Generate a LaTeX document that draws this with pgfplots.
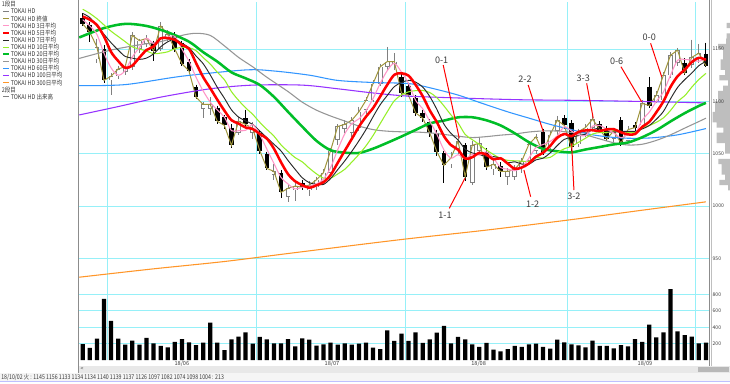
\documentclass[border=0pt]{standalone}
\usepackage{fontspec}
\setmainfont{Noto Sans CJK JP}
\usepackage{graphicx}
\usepackage{pgfplots}
\usepackage{pgfplotstable}
\pgfplotsset{compat=1.18}

\definecolor{gridcyan}{RGB}{150,240,248}
\definecolor{labgray}{RGB}{60,60,60}
\definecolor{candgray}{RGB}{128,128,128}
\definecolor{closeol}{RGB}{160,150,60}
\definecolor{ma3}{RGB}{255,150,200}
\definecolor{ma5}{RGB}{255,0,0}
\definecolor{ma7}{RGB}{40,40,40}
\definecolor{ma10}{RGB}{150,240,40}
\definecolor{ma20}{RGB}{0,190,40}
\definecolor{ma30}{RGB}{150,150,150}
\definecolor{ma60}{RGB}{50,150,255}
\definecolor{ma100}{RGB}{150,50,255}
\definecolor{ma300}{RGB}{255,150,40}
\definecolor{histgray}{RGB}{190,190,190}

\newcommand\legfont{\fontsize{4.9}{5}\selectfont}
\newcommand\axfont{\fontsize{3.8}{4}\selectfont}
\newcommand\monfont{\fontsize{4.2}{4.5}\selectfont}
\newcommand\annfont{\fontsize{6.8}{7}\selectfont}

\pgfplotstableread{
i o h l c
0 1180 1184 1172 1174
1 1173 1176 1157 1166
2 1140 1160 1137 1152
3 1150 1154 1118 1120
4 1120 1127 1106 1124
5 1124 1134 1121 1131
6 1128 1136 1125 1133
7 1133 1166 1130 1163
8 1150 1160 1146 1158
9 1155 1163 1152 1160
10 1156 1158 1139 1148
11 1150 1176 1148 1172
12 1160 1168 1158 1164
13 1163 1166 1147 1150
14 1156 1158 1134 1136
15 1138 1140 1126 1129
16 1114 1116 1102 1104
17 1093 1099 1084 1097
18 1093 1104 1087 1097
19 1094 1096 1078 1081
20 1085 1087 1074 1077
21 1075 1078 1055 1058
22 1070 1085 1068 1081
23 1084 1092 1075 1078
24 1070 1080 1064 1074
25 1070 1073 1050 1053
26 1050 1052 1034 1036
27 1030 1040 1025 1033
28 1032 1034 1008 1013
29 1009 1020 1004 1017
30 1015 1022 1005 1019
31 1022 1025 1015 1018
32 1015 1024 1010 1020
33 1018 1028 1015 1025
34 1023 1035 1020 1032
35 1032 1055 1030 1053
36 1063 1078 1058 1076
37 1074 1082 1070 1078
38 1070 1085 1066 1082
39 1075 1095 1072 1090
40 1092 1104 1088 1101
41 1101 1120 1099 1117
42 1117 1136 1115 1133
43 1133 1152 1130 1138
44 1136 1146 1130 1138
45 1123 1126 1104 1108
46 1115 1118 1104 1106
47 1103 1106 1086 1089
48 1089 1092 1080 1084
49 1080 1083 1066 1070
50 1070 1073 1048 1052
51 1051 1053 1022 1039
52 1040 1052 1036 1046
53 1055 1066 1050 1062
54 1058 1060 1024 1028
55 1022 1062 1020 1058
56 1053 1066 1050 1060
57 1052 1055 1034 1037
58 1035 1044 1030 1040
59 1038 1042 1028 1033
60 1028 1036 1020 1033
61 1028 1039 1025 1035
62 1036 1046 1032 1043
63 1043 1062 1040 1059
64 1053 1069 1050 1066
65 1071 1074 1049 1051
66 1055 1072 1052 1068
67 1072 1086 1068 1082
68 1084 1087 1074 1077
69 1079 1082 1051 1056
70 1059 1074 1056 1071
71 1070 1078 1066 1075
72 1075 1088 1072 1083
73 1078 1081 1070 1073
74 1073 1076 1062 1064
75 1064 1075 1060 1072
76 1082 1085 1057 1060
77 1062 1076 1060 1073
78 1077 1080 1072 1075
79 1077 1101 1075 1098
80 1114 1123 1094 1096
81 1100 1110 1098 1106
82 1101 1128 1099 1125
83 1125 1147 1122 1144
84 1137 1151 1134 1149
85 1137 1141 1125 1127
86 1135 1159 1132 1142
87 1140 1155 1137 1146
88 1145 1156 1133 1134
}\candles

\pgfplotstableread{
i v
0 195
1 147
2 260
3 745
4 476
5 260
6 187
7 236
8 187
9 269
10 204
11 171
12 155
13 220
14 256
15 216
16 183
17 212
18 456
19 212
20 122
21 252
22 285
23 338
24 199
25 281
26 252
27 204
28 204
29 256
30 167
31 265
32 248
33 175
34 191
35 212
36 187
37 204
38 187
39 199
40 212
41 151
42 134
43 362
44 232
45 322
46 232
47 338
48 208
49 252
50 334
51 415
52 204
53 281
54 252
55 191
56 159
57 208
58 126
59 106
60 134
61 171
62 159
63 191
64 199
65 159
66 138
67 248
68 216
69 191
70 179
71 155
72 236
73 171
74 171
75 142
76 183
77 167
78 256
79 220
80 431
81 277
82 338
83 863
84 350
85 305
86 285
87 204
88 213
}\volume

\pgfplotstableread{
i v
0 1178
1 1172
2 1164
3 1146
4 1132
5 1125
6 1129.3
7 1142.3
8 1151.3
9 1160.3
10 1155.3
11 1160
12 1161.3
13 1162
14 1150
15 1138.3
16 1123
17 1110
18 1099.3
19 1091.7
20 1085
21 1072
22 1072
23 1072.3
24 1077.7
25 1068.3
26 1054.3
27 1040.7
28 1027.3
29 1021
30 1016.3
31 1018
32 1019
33 1021
34 1025.7
35 1036.7
36 1053.7
37 1069
38 1078.7
39 1083.3
40 1091
41 1102.7
42 1117
43 1129.3
44 1136.3
45 1128
46 1117.3
47 1101
48 1093
49 1081
50 1068.7
51 1053.7
52 1045.7
53 1049
54 1045.3
55 1049.3
56 1048.7
57 1051.7
58 1045.7
59 1036.7
60 1035.3
61 1033.7
62 1037
63 1045.7
64 1056
65 1058.7
66 1061.7
67 1067
68 1075.7
69 1071.7
70 1068
71 1067.3
72 1076.3
73 1077
74 1073.3
75 1069.7
76 1065.3
77 1068.3
78 1069.3
79 1082
80 1089.7
81 1100
82 1109
83 1125
84 1139.3
85 1140
86 1139.3
87 1138.3
88 1140.7
}\maA

\pgfplotstableread{
i v
0 1181
1 1178
2 1173
3 1162
4 1147.2
5 1138.6
6 1132
7 1134.2
8 1141.8
9 1149
10 1152.4
11 1160.2
12 1160.4
13 1158.8
14 1154
15 1150.2
16 1136.6
17 1123.2
18 1112.6
19 1101.6
20 1091.2
21 1082
22 1078.8
23 1075
24 1073.6
25 1068.8
26 1064.4
27 1054.8
28 1041.8
29 1030.4
30 1023.6
31 1020
32 1017.4
33 1019.8
34 1022.8
35 1029.6
36 1041.2
37 1052.8
38 1064.2
39 1075.8
40 1085.4
41 1093.6
42 1104.6
43 1115.8
44 1125.4
45 1126.8
46 1124.6
47 1115.8
48 1105
49 1091.4
50 1080.2
51 1066.8
52 1058.2
53 1053.8
54 1045.4
55 1046.6
56 1050.8
57 1049
58 1044.6
59 1045.6
60 1040.6
61 1035.6
62 1036.8
63 1040.6
64 1047.2
65 1050.8
66 1057.4
67 1065.2
68 1068.8
69 1066.8
70 1070.8
71 1072.2
72 1072.4
73 1071.6
74 1073.2
75 1073.4
76 1070.4
77 1068.4
78 1068.8
79 1075.6
80 1080.4
81 1089.6
82 1100
83 1113.8
84 1124
85 1130.2
86 1137.4
87 1141.6
88 1139.6
}\maB

\pgfplotstableread{
i v
0 1184
1 1180
2 1172
3 1164
4 1156
5 1149
6 1142.9
7 1141.3
8 1140.1
9 1141.3
10 1145.3
11 1152.1
12 1156.9
13 1159.3
14 1155.4
15 1151.3
16 1143.3
17 1136
18 1125.3
19 1113.4
20 1103
21 1091.9
22 1085
23 1081.3
24 1078
25 1071.7
26 1065.3
27 1059
28 1052.6
29 1043.4
30 1035
31 1027
32 1022.3
33 1020.7
34 1020.6
35 1026.3
36 1034.7
37 1043.1
38 1052.3
39 1062.3
40 1073.1
41 1085.3
42 1096.7
43 1105.6
44 1114.1
45 1117.9
46 1120.1
47 1118.4
48 1113.7
49 1104.7
50 1092.4
51 1078.3
52 1069.4
53 1063.1
54 1054.4
55 1050.7
56 1049.3
57 1047.1
58 1047.3
59 1045.4
60 1041.3
61 1042.3
62 1040.1
63 1040
64 1044.1
65 1045.7
66 1050.7
67 1057.7
68 1063.7
69 1065.6
70 1067.3
71 1068.6
72 1073.1
73 1073.9
74 1071.3
75 1070.6
76 1071.1
77 1071.4
78 1071.4
79 1073.6
80 1076.9
81 1082.9
82 1090.4
83 1102.4
84 1113.3
85 1120.7
86 1127
87 1134.1
88 1138.1
}\maC

\pgfplotstableread{
i v
0 1188
1 1184
2 1179
3 1173
4 1167
5 1162
6 1157
7 1152
8 1150
9 1148.1
10 1145.5
11 1146.1
12 1147.3
13 1150.3
14 1151.5
15 1151.3
16 1148.4
17 1141.8
18 1135.7
19 1127.8
20 1120.7
21 1109.3
22 1101
23 1093.8
24 1087.6
25 1080
26 1073.2
27 1066.8
28 1058.4
29 1052
30 1046.2
31 1042.2
32 1036.1
33 1030.8
34 1026.6
35 1026.6
36 1030.6
37 1035.1
38 1042
39 1049.3
40 1057.5
41 1067.4
42 1078.7
43 1090
44 1100.6
45 1106.1
46 1109.1
47 1110.2
48 1110.4
49 1108.4
50 1103.5
51 1095.7
52 1087
53 1079.4
54 1068.4
55 1063.4
56 1058.8
57 1053.6
58 1049.2
59 1045.5
60 1043.6
61 1043.2
62 1042.9
63 1042.6
64 1046.4
65 1045.7
66 1046.5
67 1051
68 1054.7
69 1057
70 1060.8
71 1064.8
72 1068.8
73 1070.2
74 1070
75 1072.1
76 1071.3
77 1070.4
78 1070.2
79 1074.4
80 1076.9
81 1080
82 1084.2
83 1091.3
84 1099.8
85 1105.3
86 1113.5
87 1120.8
88 1126.7
}\maD

\pgfplotstableread{
i v
-0.5 1161
3 1170
6 1174
9 1172
12 1166
15 1157
17 1147
19 1138
21 1127.7
23 1122
25 1115.7
27 1104.3
29 1089.9
31 1075.8
33 1062.3
35 1053.3
37 1051
39 1050.7
41 1054.8
43 1060.4
45 1066.4
47 1072.7
49 1078.9
51 1081.6
53 1084.7
55 1084.8
57 1081.9
59 1077
61 1069.5
63 1061
65 1054.6
67 1052.3
69 1051.3
71 1054
73 1056.4
75 1058.9
77 1060.7
79 1065.7
81 1072.4
83 1080.8
85 1088.7
87 1095.6
88 1098.5
}\maE

\pgfplotstableread{
i v
-0.5 1141
4 1149
8 1154
11 1157
14 1163
16 1165
18 1163
20 1153
22 1142
24 1133
26 1123
29 1109.3
31 1099.2
33 1091.6
35 1086
37 1081.2
39 1076.4
41 1073
43 1071.5
45 1070.9
47 1070.7
49 1069.9
51 1068.4
53 1066.7
55 1065.4
57 1066.3
59 1067.7
61 1068.8
63 1070.7
65 1071.7
67 1071.6
69 1070.3
71 1067.9
73 1064.1
75 1060.4
77 1058.3
79 1059
81 1062.7
83 1068
85 1074.4
87 1080.7
88 1083.9
}\maF

\pgfplotstableread{
i v
-0.5 1115
6 1116
14 1124
23 1130
27 1129
32 1125
36 1120
41 1118
46 1117
49 1113
53 1106
56 1099
60 1090
63 1084
66 1078
69 1073
72 1068
76 1065
80 1065
84 1068
88 1074
}\maG

\pgfplotstableread{
i v
-0.5 1087
5 1095
11 1104
18 1112
24 1115.5
31 1115.5
36 1112
41 1108
46 1105
54 1103
62 1101.5
69 1101
78 1100
88 1098.5
}\maH

\pgfplotstableread{
i v
-0.5 932
10 940
20 947
30 955.5
45 968
57 977
69 987
79 996
88 1004
}\maI

\pgfplotstableread{
w p
3.3 1172.5
3.3 1162.5
4 1157.5
12 1152.5
7 1147.5
7 1142.5
9.3 1137.5
9.3 1132.5
5 1127.5
10.7 1122.5
2 1117.5
7 1112.5
12 1107.5
12 1102.5
15 1097.5
15 1092.5
17.3 1087.5
17.3 1082.5
13.3 1077.5
6.7 1072.5
13.3 1067.5
13.3 1062.5
5 1057.5
5 1052.5
11.7 1042.5
8.3 1037.5
8.3 1032.5
5 1027.5
10.7 1022.5
2 1017.5
}\histo

\begin{document}
\begin{tikzpicture}
\path[use as bounding box] (0,0) rectangle (547.5pt,-287.25pt);
\begin{scope}[x=0.75pt,y=-0.75pt]
  \fill[white] (0,0) rectangle (730,383);
  \fill[black!9] (79,366) rectangle (730,372.5);
  \fill[black!28] (698,366.6) rectangle (728.5,372);
  \fill[black!4] (0,372.5) rectangle (730,381);
  \draw[blue!25, line width=0.75pt] (0,381.2) -- (730,381.2);
\end{scope}

% volume-at-price histogram on the right
\begin{axis}[at={(533.25pt,-270pt)}, anchor=south west, scale only axis,
  width=14.25pt, height=268.5pt, hide axis,
  xmin=0, xmax=19, x dir=reverse, ymin=852.9, ymax=1194.9]
  \addplot[xbar, bar width=5, bar shift=0pt, fill=histgray, draw=none] table[x=w, y=p] {\histo};
\end{axis}

% volume panel
\begin{axis}[at={(59.4pt,-270pt)}, anchor=south west, scale only axis,
  width=472.7pt, height=268.5pt,
  xmin=-0.5, xmax=88.5, ymin=0, ymax=4365.8,
  axis line style={draw=none}, tick style={draw=none}, major tick length=0pt,
  xtick=\empty, ytick={200,400,600,800}, ymajorgrids,
  grid style={draw=gridcyan, line width=0.6pt},
  yticklabel pos=right,
  yticklabel style={font=\axfont, text=labgray, anchor=west, inner sep=0pt, xshift=2.2pt},
  /pgf/number format/assume math mode=true, /pgf/number format/1000 sep={}]
  \addplot[ybar, bar width=0.6, bar shift=0pt, fill=black, draw=none] table[x=i, y=v] {\volume};
\end{axis}

% price panel
\begin{axis}[at={(59.4pt,-270pt)}, anchor=south west, scale only axis,
  width=472.7pt, height=268.5pt,
  xmin=-0.5, xmax=88.5, ymin=852.9, ymax=1194.9,
  axis line style={draw=none}, tick style={draw=none}, major tick length=0pt,
  ytick={950,1000,1050,1100,1150}, ymajorgrids,
  grid style={draw=gridcyan, line width=0.6pt},
  yticklabel pos=right,
  yticklabel style={font=\axfont, text=labgray, anchor=west, inner sep=0pt, xshift=2.2pt},
  xtick={14,35.2,55.9,79.4}, xticklabels={18/06,18/07,18/08,18/09},
  xticklabel style={font=\monfont, text=labgray, inner sep=0pt, yshift=-0.5pt},
  extra x ticks={3.5,24.5,45.5,68.5,86.5}, extra x tick labels={},
  extra x tick style={grid=major},
  /pgf/number format/assume math mode=true, /pgf/number format/1000 sep={},
  unbounded coords=discard]

  % wicks of rising (white) candles
  \addplot[draw=none, mark=none, forget plot,
    restrict expr to domain={\thisrow{c}-\thisrow{o}}{0:500},
    error bars/.cd, y dir=minus, y explicit, error mark=none,
    error bar style={draw=candgray, line width=0.7pt, solid}]
    table[x=i, y=h, y error expr={\thisrow{h}-\thisrow{l}}] {\candles};
  % wicks of falling (black) candles
  \addplot[draw=none, mark=none, forget plot,
    restrict expr to domain={\thisrow{o}-\thisrow{c}}{0:500},
    error bars/.cd, y dir=minus, y explicit, error mark=none,
    error bar style={draw=black, line width=0.7pt, solid}]
    table[x=i, y=h, y error expr={\thisrow{h}-\thisrow{l}}] {\candles};
  % bodies of rising candles: outline
  \addplot[draw=none, mark=none, forget plot,
    restrict expr to domain={\thisrow{c}-\thisrow{o}}{0:500},
    error bars/.cd, y dir=minus, y explicit, error mark=none,
    error bar style={draw=candgray, line width=3.5pt, solid}]
    table[x=i, y=c, y error expr={\thisrow{c}-\thisrow{o}}] {\candles};
  % bodies of rising candles: white inside
  \addplot[draw=none, mark=none, forget plot,
    restrict expr to domain={\thisrow{c}-\thisrow{o}}{0:500},
    error bars/.cd, y dir=minus, y explicit, error mark=none,
    error bar style={draw=white, line width=2.3pt, solid}]
    table[x=i, y expr={\thisrow{c}-0.6}, y error expr={max(\thisrow{c}-\thisrow{o}-1.2,0)}] {\candles};
  % bodies of falling candles
  \addplot[draw=none, mark=none, forget plot,
    restrict expr to domain={\thisrow{o}-\thisrow{c}}{0:500},
    error bars/.cd, y dir=minus, y explicit, error mark=none,
    error bar style={draw=black, line width=3.5pt, solid}]
    table[x=i, y=o, y error expr={\thisrow{o}-\thisrow{c}}] {\candles};

  \addplot[closeol, line width=0.75pt, mark=none] table[x=i, y=c] {\candles};
  \addplot[ma300, line width=0.8pt, mark=none, smooth] table[x=i, y=v] {\maI};
  \addplot[ma100, line width=0.8pt, mark=none, smooth] table[x=i, y=v] {\maH};
  \addplot[ma60, line width=0.8pt, mark=none, smooth] table[x=i, y=v] {\maG};
  \addplot[ma30, line width=0.8pt, mark=none, smooth] table[x=i, y=v] {\maF};
  \addplot[ma20, line width=1.9pt, mark=none, smooth] table[x=i, y=v] {\maE};
  \addplot[ma10, line width=0.8pt, mark=none, smooth] table[x=i, y=v] {\maD};
  \addplot[ma7, line width=0.7pt, mark=none, smooth] table[x=i, y=v] {\maC};
  \addplot[ma3, line width=0.8pt, mark=none, smooth] table[x=i, y=v] {\maA};
  \addplot[ma5, line width=1.9pt, mark=none, smooth] table[x=i, y=v] {\maB};

  \begin{scope}[red, line width=0.75pt]
    \draw (axis cs:50.9,1134.7) -- (axis cs:53.17,1064.7);
    \draw (axis cs:51.76,997.8) -- (axis cs:53.97,1026.5);
    \draw (axis cs:62.9,1115.6) -- (axis cs:65.03,1071);
    \draw (axis cs:63.25,1008.9) -- (axis cs:62.3,1034.4);
    \draw (axis cs:71.16,1117.2) -- (axis cs:72.09,1083.8);
    \draw (axis cs:69.36,1015.3) -- (axis cs:69.04,1059.9);
    \draw (axis cs:76,1133.1) -- (axis cs:78.92,1099.6);
    \draw (axis cs:80.19,1155.4) -- (axis cs:81.75,1123.5);
  \end{scope}
  \begin{scope}[every node/.style={font=\annfont, text=labgray, inner sep=0pt}]
    \node at (axis cs:50.68,1139) {0-1};
    \node at (axis cs:51.15,991.4) {1-1};
    \node at (axis cs:62.45,1121) {2-2};
    \node at (axis cs:63.53,1001.9) {1-2};
    \node at (axis cs:70.68,1122.3) {3-3};
    \node at (axis cs:69.36,1008.9) {3-2};
    \node at (axis cs:75.39,1138.5) {0-6};
    \node at (axis cs:80,1161.2) {0-0};
  \end{scope}
\end{axis}

\begin{scope}[x=0.75pt,y=-0.75pt]
  % frame lines
  \draw[black!45, line width=0.75pt] (78.5,0) -- (78.5,372.5);
  \draw[black!45, line width=0.75pt] (709.3,0) -- (709.3,366);
  \draw[black!25, line width=0.6pt] (711.2,0) -- (711.2,366);
  \node[font=\axfont, text=labgray, inner sep=0pt] at (82,369.3) {<};
  % legend panel
  \begin{scope}[every node/.style={font=\legfont, text=labgray, inner sep=0pt, anchor=west}]
    \node at (1.5,4.5) {\scalebox{0.84}[1]{1段目}};
    \foreach \yy/\cc/\lw/\tt in {
      11.6/candgray/0.75/{TOKAI HD},
      18.7/closeol/0.75/{TOKAI HD 終値},
      25.8/ma3/0.75/{TOKAI HD 3日平均},
      32.9/ma5/1.5/{TOKAI HD 5日平均},
      40.0/ma7/0.75/{TOKAI HD 7日平均},
      47.1/ma10/0.75/{TOKAI HD 10日平均},
      54.2/ma20/1.5/{TOKAI HD 20日平均},
      61.3/ma30/0.75/{TOKAI HD 30日平均},
      68.4/ma60/0.75/{TOKAI HD 60日平均},
      75.5/ma100/0.75/{TOKAI HD 100日平均},
      82.6/ma300/0.75/{TOKAI HD 300日平均},
      96.8/candgray/0.75/{TOKAI HD 出来高}}{
      \draw[\cc, line width=\lw pt] (3,\yy) -- (8.5,\yy);
      \node at (10.5,\yy) {\scalebox{0.84}[1]{\tt}};
    }
    \node at (1.5,89.7) {\scalebox{0.84}[1]{2段目}};
  \end{scope}
  % status bar
  \node[font=\legfont, text=labgray, inner sep=0pt, anchor=west] at (1,377)
    {\scalebox{0.8}[1]{18/10/02 火 : 1145 1156 1133 1134 1134 1140 1139 1137 1126 1097 1082 1074 1098 1004 : 213}};
\end{scope}
\end{tikzpicture}
\end{document}
